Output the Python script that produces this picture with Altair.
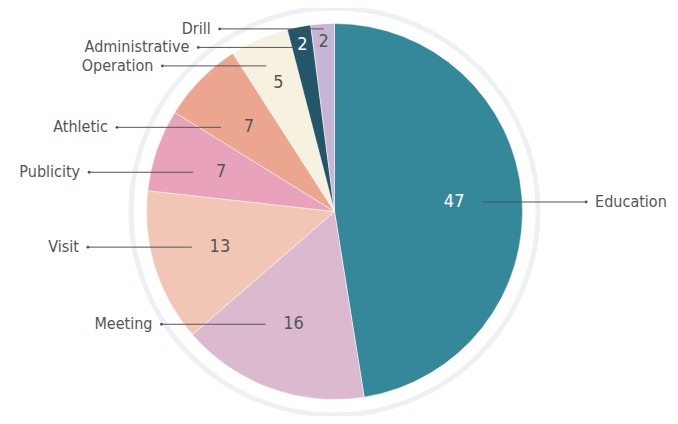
import altair as alt
import numpy as np
import pandas as pd

# ---- data ----
categories = ["Education", "Meeting", "Visit", "Publicity", "Athletic",
              "Operation", "Administrative", "Drill"]
values = [47, 16, 13, 7, 7, 5, 2, 2]
colors = ["#35879a", "#dbb9cf", "#f2c6b5", "#e9a2bb", "#eca68f",
          "#f7f1df", "#235669", "#c6b5d3"]
value_text_colors = ["#ffffff", "#555555", "#555555", "#555555", "#555555",
                     "#555555", "#ffffff", "#555555"]

# ---- layout (derived from the values) ----
W, H = 662, 408
CX, CY = 326.5, 203.5
R = 188
RING_IN, RING_OUT = 201, 206
LINE_LEN = 104
FONT = "DejaVu Sans Condensed, Roboto, sans-serif"
FS = 16

v = np.array(values, dtype=float)
total = v.sum()
start = np.cumsum(v) - v
mid = (start + v / 2) / total * 2 * np.pi
side = np.where(np.sin(mid) >= 0, 1, -1)

r_val = np.where(v >= 7, 120, np.where(v >= 5, 140, 170))
vx = CX + r_val * np.sin(mid)
vy = CY - r_val * np.cos(mid)

# leader-line inner point
r_line = 170
small = v <= 5
lx_in = np.where(small, CX + r_line * np.sin(mid), vx + side * 28)
ly = np.where(small, CY - r_line * np.cos(mid), vy)

# simple label de-overlap per side
ly = ly.astype(float).copy()
gap = 18.5
for s in (-1, 1):
    idx = [i for i in np.argsort(ly) if side[i] == s]
    for _ in range(300):
        for a, b in zip(idx[:-1], idx[1:]):
            d = ly[b] - ly[a]
            if d < gap:
                push = (gap - d) / 2
                ly[a] -= push
                ly[b] += push
        idx = sorted(idx, key=lambda i: ly[i])

lx_out = lx_in + side * LINE_LEN
tx = lx_out + side * 9

df = pd.DataFrame({
    "category": categories,
    "value": values,
    "order": list(range(len(values))),
    "vx": vx, "vy": vy,
    "lx_in": lx_in, "lx_out": lx_out, "ly": ly,
    "tx": tx,
    "align": np.where(side > 0, "left", "right"),
    "vcolor": value_text_colors,
})

color_scale = alt.Scale(domain=categories, range=colors)

ring = alt.Chart(pd.DataFrame({"a": [1]})).mark_arc(
    radius=RING_OUT, radius2=RING_IN, theta=0, theta2=2 * np.pi,
    color="#edf1f5"
).encode(x=alt.value(CX), y=alt.value(CY))

pie = alt.Chart(df).mark_arc(
    radius=R, stroke="#ffffff", strokeWidth=0.5
).encode(
    theta=alt.Theta("value:Q", stack=True),
    order=alt.Order("order:Q"),
    color=alt.Color("category:N", scale=color_scale, legend=None),
    x=alt.value(CX), y=alt.value(CY),
)

lines = alt.Chart(df).mark_rule(color="#555555", strokeWidth=1).encode(
    x=alt.X("lx_in:Q", scale=None),
    x2="lx_out:Q",
    y=alt.Y("ly:Q", scale=None),
)

dots = alt.Chart(df).mark_circle(color="#555555", size=8, opacity=1).encode(
    x=alt.X("lx_out:Q", scale=None),
    y=alt.Y("ly:Q", scale=None),
)

left_labels = alt.Chart(df).transform_filter("datum.align == 'right'").mark_text(
    align="right", baseline="middle", font=FONT, fontSize=FS, color="#555555"
).encode(
    x=alt.X("tx:Q", scale=None), y=alt.Y("ly:Q", scale=None), text="category:N"
)

right_labels = alt.Chart(df).transform_filter("datum.align == 'left'").mark_text(
    align="left", baseline="middle", font=FONT, fontSize=FS, color="#555555"
).encode(
    x=alt.X("tx:Q", scale=None), y=alt.Y("ly:Q", scale=None), text="category:N"
)

value_labels = alt.Chart(df).mark_text(
    align="center", baseline="middle", font=FONT, fontSize=FS + 2
).encode(
    x=alt.X("vx:Q", scale=None), y=alt.Y("vy:Q", scale=None),
    text="value:Q",
    color=alt.Color("vcolor:N", scale=None),
)

chart = alt.layer(ring, pie, lines, dots, left_labels, right_labels, value_labels).properties(
    width=W, height=H, padding=0, autosize=alt.AutoSizeParams(type="none"),
    background="#ffffff",
).configure_view(stroke=None)

chart.save("out.html", embed_options={"renderer": "svg", "actions": False})
